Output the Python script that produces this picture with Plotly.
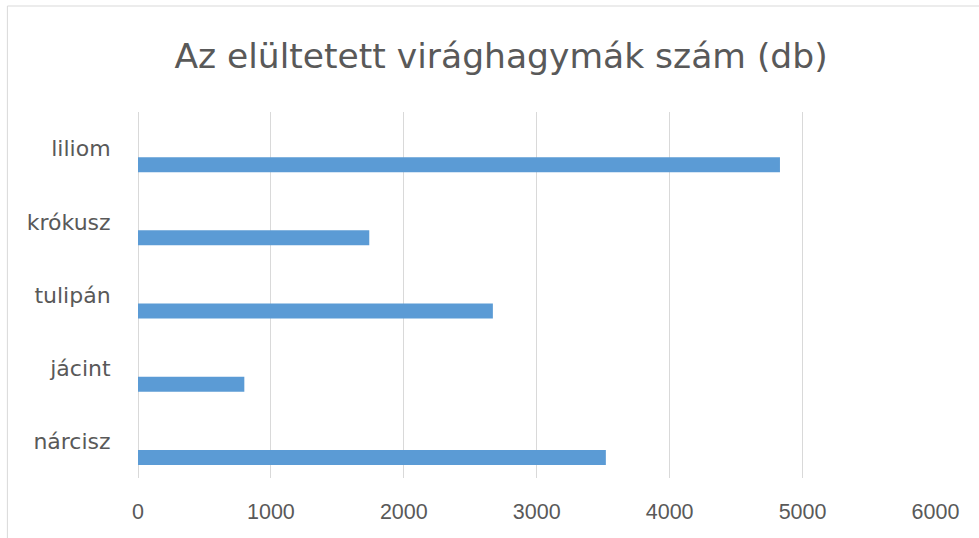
import plotly.graph_objects as go

categories = ["liliom", "krókusz", "tulipán", "jácint", "nárcisz"]
values = [4830, 1740, 2670, 800, 3520]
x_ticks = [0, 1000, 2000, 3000, 4000, 5000, 6000]
title_text = "Az elültetett virághagymák szám (db)"

W, H = 979, 538
L, R, T, B = 137.7, 42.7, 112, 60
pw, ph = W - L - R, H - T - B

fig = go.Figure(go.Bar(
    x=values, y=categories, orientation="h",
    marker=dict(color="#5B9BD5", line=dict(width=0)),
    width=0.205, offset=0.1165,
    hoverinfo="x+y",
))

fig.update_layout(
    width=W, height=H,
    margin=dict(l=L, r=R, t=T, b=B, pad=0),
    paper_bgcolor="white", plot_bgcolor="white",
    showlegend=False,
    title=dict(text=title_text, xref="container", yref="container",
               x=501 / W, xanchor="center", y=1 - 56 / H, yanchor="middle",
               font=dict(family="DejaVu Sans", size=34.5, color="#595959")),
    xaxis=dict(range=[0, 6004], tickvals=x_ticks, ticktext=[str(v) for v in x_ticks],
               showgrid=True, gridcolor="#D9D9D9", gridwidth=1,
               zeroline=True, zerolinecolor="#D9D9D9", zerolinewidth=1,
               showline=False, ticks="outside", ticklen=14, tickcolor="rgba(0,0,0,0)",
               tickfont=dict(family="Liberation Sans", size=21.5, color="#595959"),
               fixedrange=True),
    yaxis=dict(autorange="reversed", showgrid=False, zeroline=False, showline=False,
               ticks="outside", ticklen=22, tickcolor="rgba(0,0,0,0)",
               tickfont=dict(family="DejaVu Sans", size=22, color="#595959"),
               fixedrange=True),
    shapes=[dict(type="rect", xref="paper", yref="paper",
                 x0=(7 - L) / pw, x1=(W + 20 - L) / pw,
                 y0=(H - B - (H + 20)) / ph, y1=(H - B - 6) / ph,
                 line=dict(color="#D9D9D9", width=1), fillcolor="rgba(0,0,0,0)",
                 layer="below")],
)

fig.write_html("out.html", config={"displayModeBar": False},
               post_script="document.body.style.margin='0';document.body.style.overflow='hidden';")
